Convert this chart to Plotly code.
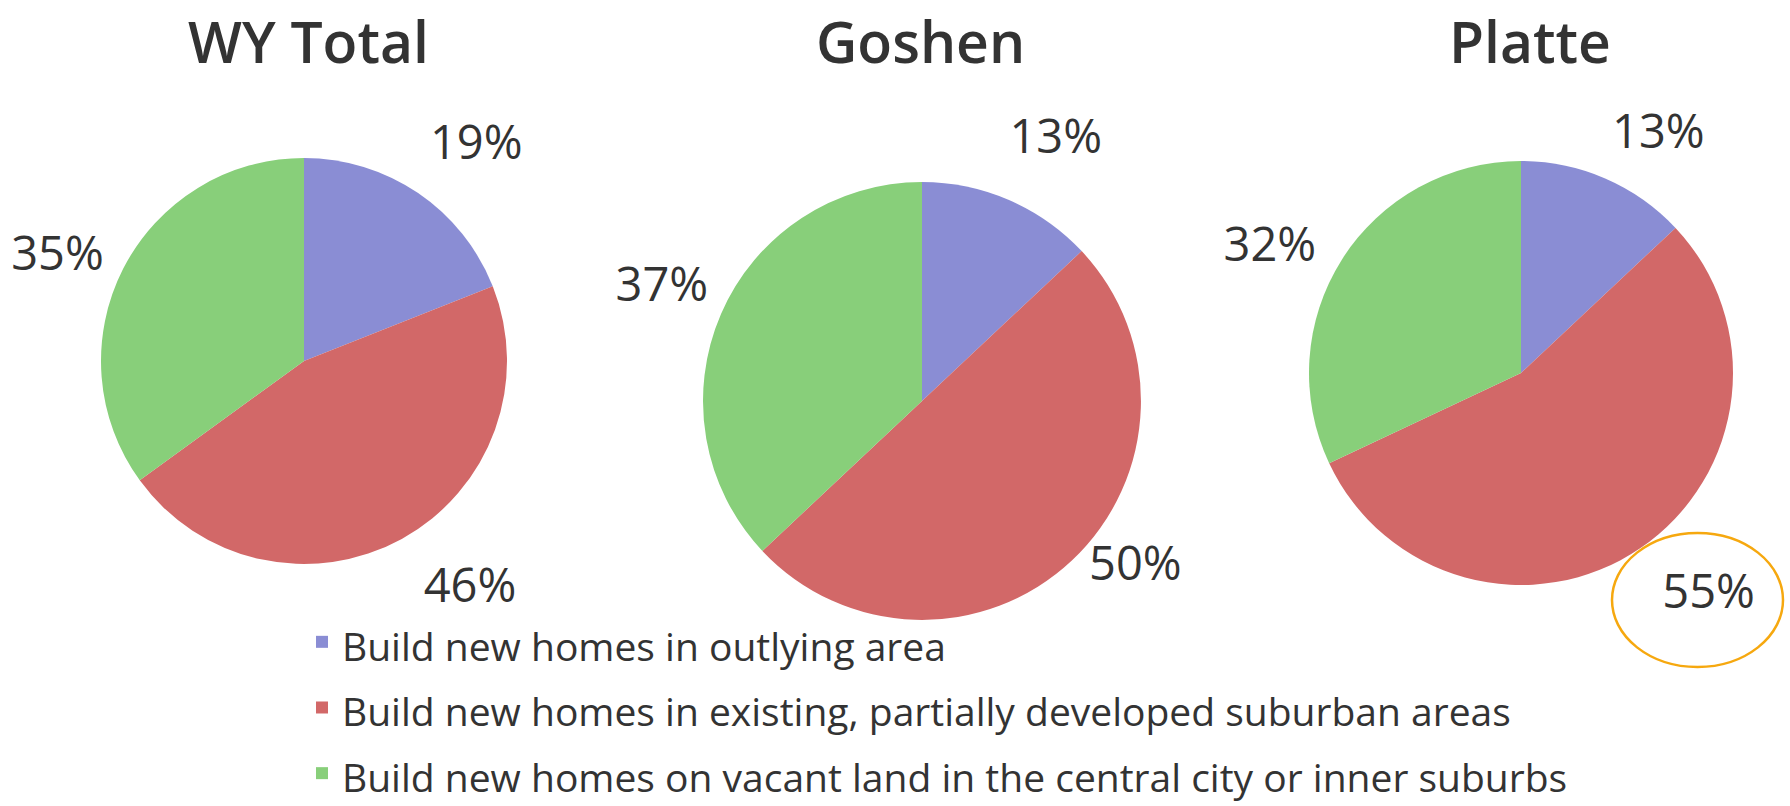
import plotly.graph_objects as go

# ---- data ----
categories = [
    "Build new homes in outlying area",
    "Build new homes in existing, partially developed suburban areas",
    "Build new homes on vacant land in the central city or inner suburbs",
]
regions = ["WY Total", "Goshen", "Platte"]
wy_total = [19, 46, 35]
goshen = [13, 50, 37]
platte = [13, 55, 32]
slice_colors = ["#8a8dd4", "#d26868", "#88cf7a"]

series = [wy_total, goshen, platte]

# ---- geometry (page pixels -> paper fractions) ----
W, H = 1790, 806


def px(x):
    return x / W


def py(y):
    return 1 - y / H


def dom(cx, cy, r):
    return dict(x=[px(cx - r), px(cx + r)], y=[py(cy + r), py(cy - r)])


# visible pies: centre x, centre y, radius
pie_geo = [(304, 361, 203), (922, 401, 219), (1521, 373, 212)]
# transparent helper pies carrying the outside percentage labels
label_geo = [(290, 345, 191), (905, 366, 197), (1507, 363, 207)]
label_pull = [[0.154, 0.279, 0.0], [0.130, 0.246, 0.0], [0.084, 0.197, 0.0]]
title_dx = [4, -2, 9]

legend_labels = ['<span style="font-size:39px">%s</span>' % c for c in categories]

fig = go.Figure()
for i, (name, vals) in enumerate(zip(regions, series)):
    cx, cy, r = label_geo[i]
    half = r * (1 + max(label_pull[i]))
    fig.add_trace(go.Pie(
        labels=legend_labels,
        values=vals,
        name=name,
        sort=False,
        direction="clockwise",
        rotation=0,
        domain=dom(cx, cy, half),
        pull=label_pull[i],
        marker=dict(colors=["rgba(0,0,0,0)"] * 3, line=dict(width=0)),
        texttemplate="%{value}%",
        textposition="outside",
        outsidetextfont=dict(family="Open Sans", size=47, color="#333333"),
        showlegend=False,
        hoverinfo="skip",
    ))

for i, (name, vals) in enumerate(zip(regions, series)):
    fig.add_trace(go.Pie(
        labels=legend_labels,
        values=vals,
        name=name,
        sort=False,
        direction="clockwise",
        rotation=0,
        domain=dom(*pie_geo[i]),
        marker=dict(colors=slice_colors, line=dict(width=0)),
        textinfo="none",
        showlegend=(i == 0),
        hoverinfo="label+percent",
    ))
    fig.add_annotation(
        text=name, x=px(pie_geo[i][0] + title_dx[i]), y=1,
        xref="paper", yref="paper",
        xanchor="center", yanchor="top", showarrow=False,
        font=dict(family="Open Sans", size=57, color="#333333", weight=600),
    )

# highlight ellipse around Platte's largest share
fig.add_shape(type="circle", xref="paper", yref="paper",
              x0=px(1612), x1=px(1783), y0=py(667), y1=py(533),
              line=dict(color="#f6a80f", width=2.5))

fig.update_layout(
    width=W, height=H,
    margin=dict(l=0, r=0, t=0, b=0, autoexpand=False),
    paper_bgcolor="white", plot_bgcolor="white",
    showlegend=True,
    legend=dict(
        x=px(302), y=py(604), xanchor="left", yanchor="top",
        font=dict(family="Open Sans", size=48.2, color="#333333"),
        bgcolor="rgba(0,0,0,0)",
    ),
    font=dict(family="Open Sans", color="#333333"),
)

fig.write_html("out.html", config={"displayModeBar": False},
               post_script="document.body.style.margin='0px';")
